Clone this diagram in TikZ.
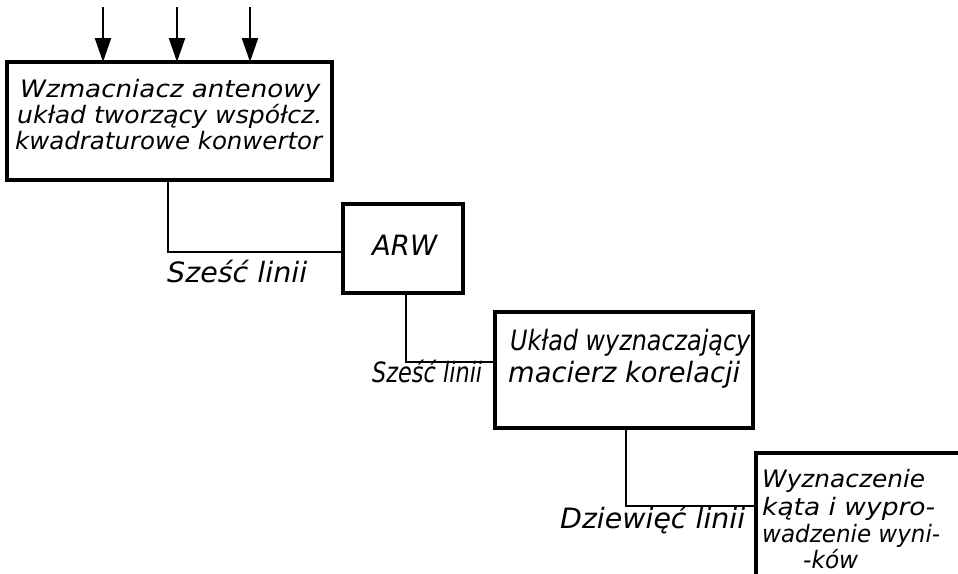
\documentclass[tikz,border=0pt]{standalone}
\usepackage{fontspec}
\setmainfont{DejaVu Sans}
\usetikzlibrary{arrows.meta}
\newcommand\lettering{\fontsize{28}{32}\selectfont\itshape}
\newcommand\smlettering{\fontsize{24}{28}\selectfont\itshape}
\newcommand\fitw[2]{\resizebox{#1pt}{\height}{#2}}
\begin{document}
\begin{tikzpicture}[x=1pt,y=-1pt,
  blk/.style={draw, line width=3.4pt, outer sep=0pt, inner sep=0pt, anchor=north west},
  txt/.style={font=\lettering, inner sep=0pt, anchor=base west},
  stxt/.style={txt, font=\smlettering},
  conn/.style={line width=2.3pt},
  arr/.style={line width=2.2pt, -{Triangle[length=24pt, width=16pt]}}]
\useasboundingbox (0,0) rectangle (958,573);
\clip (0,0) rectangle (958,573);
\fill[white] (0,0) rectangle (958,573);
% boxes
\node[blk, minimum width=325pt, minimum height=118pt] (b1) at (7,62) {};
\node[blk, minimum width=120pt, minimum height=89pt] (arw) at (343,204) {};
\node[blk, minimum width=258pt, minimum height=116pt] (b3) at (495,312) {};
\node[blk, minimum width=230pt, minimum height=150pt] (b4) at (756,453) {};
% texts
\node[stxt] (t1a) at (20,97) {\fitw{300}{Wzmacniacz antenowy}};
\node[stxt] (t1b) at (17,123) {\fitw{305}{układ tworzący współcz.}};
\node[stxt] (t1c) at (15,149) {\fitw{307}{kwadraturowe konwertor}};
\node[txt] (t2) at (372,255) {\fitw{65}{ARW}};
\node[txt] (t3a) at (510,350) {\fitw{240}{Układ wyznaczający}};
\node[txt] (t3b) at (508,382) {\fitw{232}{macierz korelacji}};
\node[stxt] (t4a) at (762,487) {\fitw{163}{Wyznaczenie}};
\node[stxt] (t4b) at (762,515) {\fitw{173}{kąta i wypro-}};
\node[stxt] (t4c) at (762,542) {\fitw{178}{wadzenie wyni-}};
\node[stxt] (t4d) at (803,568) {\fitw{55}{-ków}};
\node[txt] (l1) at (167,282) {\fitw{140}{Sześć linii}};
\node[txt] (l2) at (372,382) {\fitw{110}{Sześć linii}};
\node[txt] (l3) at (560,528) {\fitw{185}{Dziewięć linii}};
% input arrows
\coordinate (a1) at (103,7);
\coordinate (a2) at (177,7);
\coordinate (a3) at (250,7);
\foreach \a in {a1,a2,a3}
  \draw[arr] (\a) -- (\a |- b1.north);
% connectors
\coordinate (k1) at (168,0);
\draw[conn] (b1.south -| k1) |- ([yshift=-3.5pt]arw.west);
\draw[conn] ([xshift=3pt]arw.south) |- ([yshift=8pt]b3.west);
\coordinate (k3) at (626,0);
\coordinate (k4) at (0,506);
\draw[conn] (b3.south -| k3) |- (b4.west |- k4);
\end{tikzpicture}
\end{document}
